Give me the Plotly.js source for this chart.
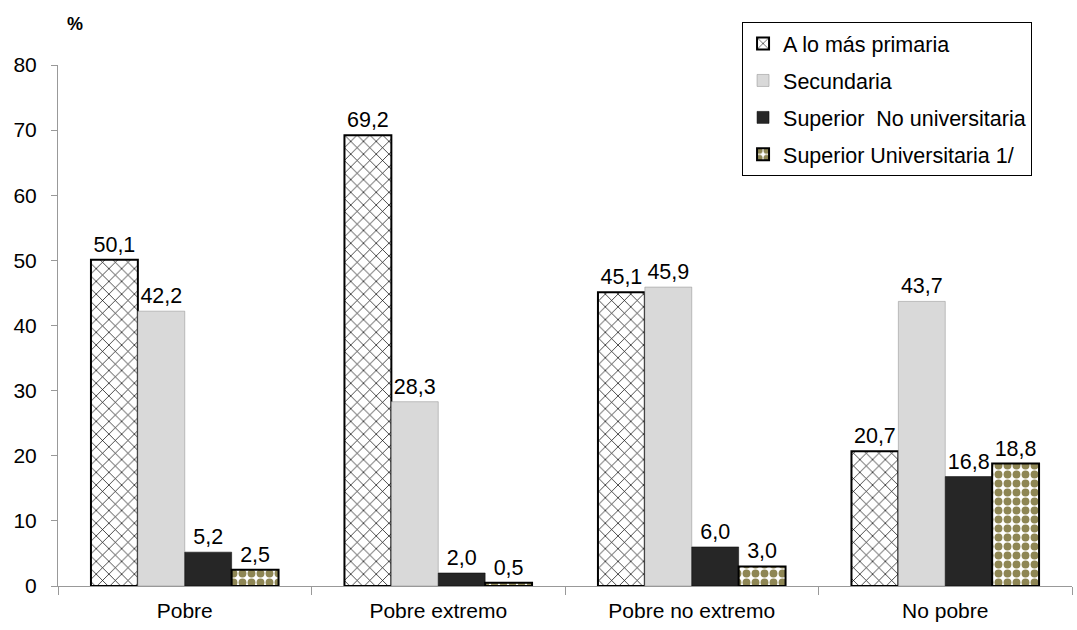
<!DOCTYPE html>
<html><head><meta charset="utf-8">
<script src="https://cdn.plot.ly/plotly-3.0.1.min.js"></script>
<style>body{margin:0;background:#fff}#chart{width:1077px;height:630px}</style>
</head><body><div id="chart"></div>
<script>
const categories = ["Pobre", "Pobre extremo", "Pobre no extremo", "No pobre"];
const seriesNames = ["A lo más primaria", "Secundaria", "Superior  No universitaria", "Superior Universitaria 1/"];
const primaria = [50.1, 69.2, 45.1, 20.7];
const secundaria = [42.2, 28.3, 45.9, 43.7];
const superiorNoUniv = [5.2, 2.0, 6.0, 16.8];
const superiorUniv = [2.5, 0.5, 3.0, 18.8];
const yTicks = [0, 10, 20, 30, 40, 50, 60, 70, 80];

const font = "Liberation Sans, Arial, sans-serif";
function bar(name, vals, marker, grp) {
  return {
    type: "bar", name: name, x: categories, y: vals, legendgroup: grp,
    texttemplate: "%{y:.1f}", textposition: "outside", cliponaxis: false,
    textfont: {family: font, size: 21.5, color: "#000"},
    marker: marker, hoverinfo: "skip"
  };
}
const data = [
  bar(seriesNames[0], primaria, {color: "#fff", line: {color: "#000", width: 2},
      pattern: {shape: "x", fgcolor: "#000", bgcolor: "#fff", size: 9, solidity: 0.15}}, "g1"),
  bar(seriesNames[1], secundaria, {color: "#d9d9d9", line: {color: "#8a8a8a", width: 0.5}}, "g2"),
  bar(seriesNames[2], superiorNoUniv, {color: "#262626", line: {color: "#000", width: 0.5}}, "g3"),
  bar(seriesNames[3], superiorUniv, {color: "#fff", line: {color: "#000", width: 2},
      pattern: {shape: ".", fgcolor: "#8e8654", bgcolor: "#fff", size: 9, solidity: 0.6}}, "g4")
];
const layout = {
  width: 1077, height: 630,
  margin: {l: 58, r: 5, t: 65, b: 44},
  paper_bgcolor: "#fff", plot_bgcolor: "#fff",
  separators: ",.",
  barmode: "group", bargap: 0.26, bargroupgap: 0,
  font: {family: font, size: 21, color: "#000"},
  showlegend: true,
  legend: {x: 0.6746, y: 1.0825, xanchor: "left", yanchor: "top",
    bordercolor: "#000", borderwidth: 1, bgcolor: "#fff",
    font: {family: font, size: 21.5, color: "#000"}, tracegroupgap: 6, itemwidth: 30},
  xaxis: {type: "category", showline: true, linecolor: "#999", linewidth: 1,
    ticks: "outside", tickson: "boundaries", tickcolor: "#999", ticklen: 8,
    ticklabelstandoff: 6,
    tickfont: {family: font, size: 21, color: "#000"}, showgrid: false, zeroline: false},
  yaxis: {range: [0, 80], tickvals: yTicks, showline: true, linecolor: "#999", linewidth: 1,
    ticks: "outside", tickcolor: "#999", ticklen: 6, showgrid: false, zeroline: false,
    ticklabelstandoff: 10,
    tickfont: {family: font, size: 21, color: "#000"}},
  annotations: [{text: "<b>%</b>", xref: "paper", yref: "paper", x: 0.017, y: 1.055,
    xanchor: "center", yanchor: "bottom", showarrow: false,
    font: {family: font, size: 18, color: "#000"}}]
};
Plotly.newPlot("chart", data, layout, {displayModeBar: false, staticPlot: true});
</script></body></html>
